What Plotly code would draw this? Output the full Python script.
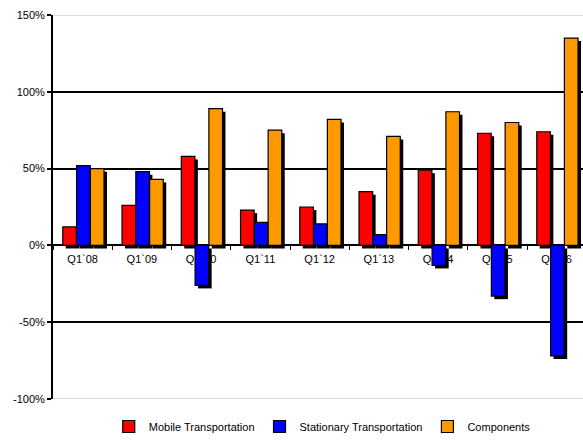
import plotly.graph_objects as go

# Year-over-year growth by segment, first quarter of each year
quarters = ["Q1`08", "Q1`09", "Q1`10", "Q1`11", "Q1`12", "Q1`13", "Q1`14", "Q1`15", "Q1`16"]
mobile = [12, 26, 58, 23, 25, 35, 49, 73, 74]
stationary = [52, 48, -26, 15, 14, 7, -13, -33, -72]
components = [50, 43, 89, 75, 82, 71, 87, 80, 135]

y_ticks = [-100, -50, 0, 50, 100, 150]
y_tick_text = ["-100%", "-50%", "0%", "50%", "100%", "150%"]

series = [
    ("Mobile Transportation", mobile, "#FF0000"),
    ("Stationary Transportation", stationary, "#0000FF"),
    ("Components", components, "#FF9900"),
]

bar_w = 0.23
offsets = [-0.335, -0.102, 0.131]
shadow_dx = 0.05   # ~3 px to the right
shadow_dy = -2.0   # ~3 px downward, in % units

fig = go.Figure()

# Drop shadows first so every coloured bar sits above them
for (name, vals, color), off in zip(series, offsets):
    fig.add_trace(go.Bar(
        x=quarters, y=vals, base=shadow_dy,
        width=bar_w, offset=off + shadow_dx,
        marker=dict(color="black", line=dict(width=0)),
        showlegend=False, hoverinfo="skip",
    ))

for (name, vals, color), off in zip(series, offsets):
    fig.add_trace(go.Bar(
        x=quarters, y=vals, name=name,
        width=bar_w, offset=off,
        marker=dict(color=color, line=dict(color="black", width=1.2)),
    ))

# Light grey frame lines at the top and bottom of the value range
for yv in (150, -100):
    fig.add_shape(type="line", xref="paper", yref="y", x0=0, x1=1, y0=yv, y1=yv,
                  line=dict(color="#d0d0d0", width=1.5), layer="above")

fig.update_layout(
    width=583, height=441,
    margin=dict(l=53, r=0, t=15, b=42, autoexpand=False),
    paper_bgcolor="white", plot_bgcolor="white",
    barmode="overlay",
    font=dict(family="Liberation Sans, Arial, sans-serif", size=11, color="black"),
    xaxis=dict(
        type="category", range=[-0.5, 8.445],
        anchor="free", position=0.4, automargin=False,
        showgrid=False, showline=False, zeroline=False,
        ticks="outside", tickson="boundaries", ticklen=4, tickcolor="black", tickwidth=1,
        ticklabelstandoff=6,
        layer="below traces",
        tickfont=dict(size=11),
    ),
    yaxis=dict(
        range=[-100, 150], tickvals=y_ticks, ticktext=y_tick_text, automargin=False,
        showgrid=True, gridcolor="black", gridwidth=1.5,
        zeroline=True, zerolinecolor="black", zerolinewidth=2,
        showline=True, linecolor="black", linewidth=2,
        ticks="outside", ticklen=4, tickcolor="black", tickwidth=2,
        tickfont=dict(size=11),
    ),
    legend=dict(
        orientation="h", x=0.508, xanchor="center",
        yref="container", y=-0.014, yanchor="bottom",
        font=dict(size=11), itemwidth=30, tracegroupgap=0,
    ),
    showlegend=True,
)

fig.write_html("out.html")
